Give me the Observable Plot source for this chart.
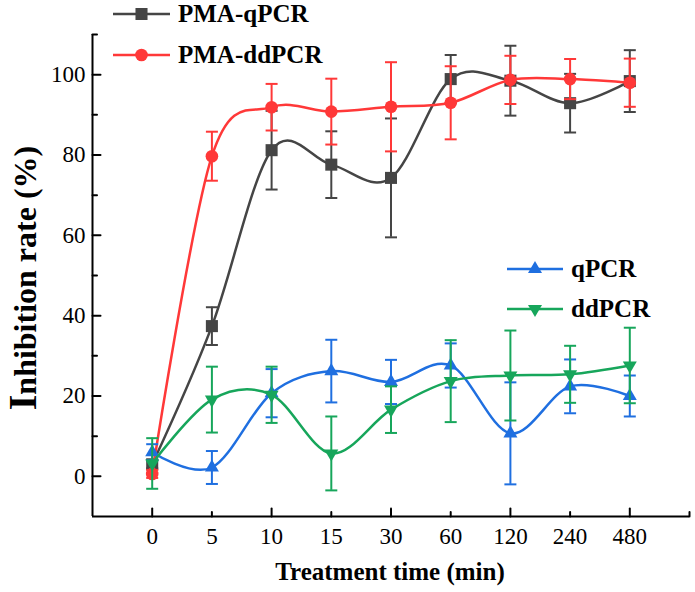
<!DOCTYPE html>
<html>
<head>
<meta charset="utf-8">
<script src="https://cdn.jsdelivr.net/npm/d3@7"></script>
<script src="https://cdn.jsdelivr.net/npm/@observablehq/plot@0.6"></script>
<style>
  html, body { margin: 0; padding: 0; background: #fff; }
</style>
</head>
<body>
<div id="chart"></div>
<script>
// Treatment times (categorical, equally spaced on the axis)
const times = ["0", "5", "10", "15", "30", "60", "120", "240", "480"];

// Inhibition rate (%) and standard deviations per method
const pmaQpcr    = [3.0, 37.4, 81.2, 77.6, 74.3, 98.9, 98.5, 92.9, 98.4];
const pmaQpcrErr = [1.0, 4.7, 9.8, 8.3, 14.8, 6.0, 8.7, 7.3, 7.7];
const pmaDdpcr    = [0.6, 79.7, 91.9, 90.8, 92.0, 93.0, 98.7, 98.9, 98.0];
const pmaDdpcrErr = [1.0, 6.1, 5.8, 8.2, 11.1, 9.1, 6.0, 5.0, 6.0];
const qpcr    = [6.0, 2.2, 20.7, 26.2, 23.5, 27.6, 10.7, 22.4, 20.0];
const qpcrErr = [2.0, 4.1, 6.0, 7.8, 5.5, 5.5, 12.7, 6.7, 5.1];
const ddpcr    = [3.2, 19.1, 20.3, 5.7, 16.6, 23.7, 25.1, 25.4, 27.6];
const ddpcrErr = [6.3, 8.2, 7.0, 9.2, 5.8, 10.2, 11.2, 7.1, 9.4];

// Axis settings
const xDomain = [-1, 9];
const yDomain = [-10, 110];
const yMajor = [0, 20, 40, 60, 80, 100];
const yMinor = [10, 30, 50, 70, 90, 110];
const xMajor = [0, 2, 4, 6, 8];
const xMinor = [1, 3, 5, 7, 9];

const font = "'Liberation Serif', 'Times New Roman', serif";

const series = [
  {name: "PMA-qPCR",  values: pmaQpcr,  errors: pmaQpcrErr,  color: "#454545", symbol: "square",   r: 6.8, rotate: 0},
  {name: "PMA-ddPCR", values: pmaDdpcr, errors: pmaDdpcrErr, color: "#ff3838", symbol: "circle",   r: 6.3, rotate: 0},
  {name: "qPCR",      values: qpcr,     errors: qpcrErr,     color: "#1f6fe0", symbol: "triangle", r: 5.2, rotate: 0},
  {name: "ddPCR",     values: ddpcr,    errors: ddpcrErr,    color: "#17a65b", symbol: "triangle", r: 5.2, rotate: 180}
];

// Horizontal cap used on the error bars
const capSymbol = {
  draw(context, size) {
    const w = Math.sqrt(size / Math.PI);
    context.moveTo(-w, 0);
    context.lineTo(w, 0);
  }
};

// Straight tick segment for the inward axis ticks
const tickShape = {
  draw(context, l) {
    context.moveTo(0, 0);
    context.lineTo(0, -l);
  }
};

const seriesMarks = series.flatMap(s => {
  const rows = times.map((t, i) => ({i, v: s.values[i], lo: s.values[i] - s.errors[i], hi: s.values[i] + s.errors[i]}));
  return [
    // uniform Catmull–Rom spline through the points
    Plot.line(rows, {x: "i", y: "v", curve: "cardinal", tension: 0, stroke: s.color, strokeWidth: 2.5}),
    Plot.ruleX(rows, {x: "i", y1: "lo", y2: "hi", stroke: s.color, strokeWidth: 2}),
    Plot.dot(rows, {x: "i", y: "hi", symbol: capSymbol, r: 6, stroke: s.color, strokeWidth: 2, fill: "none"}),
    Plot.dot(rows, {x: "i", y: "lo", symbol: capSymbol, r: 6, stroke: s.color, strokeWidth: 2, fill: "none"}),
    Plot.dot(rows, {x: "i", y: "v", symbol: s.symbol, r: s.r, fill: s.color, stroke: "none", rotate: s.rotate})
  ];
});

const svg = Plot.plot({
  width: 695,
  height: 592,
  marginLeft: 92,
  marginRight: 6,
  marginTop: 34,
  marginBottom: 76,
  style: {fontFamily: font, background: "#fff", color: "#000"},
  x: {domain: xDomain},
  y: {domain: yDomain},
  marks: [
    // tick labels
    Plot.axisX({ticks: d3.range(times.length), tickSize: 0, tickPadding: 11, tickFormat: i => times[i], fontSize: 23, label: null}),
    Plot.axisY({ticks: yMajor, tickSize: 0, tickPadding: 7, fontSize: 23, label: null}),
    // inward tick marks
    Plot.vector(xMajor, {x: d => d, frameAnchor: "bottom", length: 8, anchor: "start", shape: tickShape, stroke: "#000", strokeWidth: 2}),
    Plot.vector(xMinor, {x: d => d, frameAnchor: "bottom", length: 4.5, anchor: "start", shape: tickShape, stroke: "#000", strokeWidth: 2}),
    Plot.vector(yMajor, {y: d => d, frameAnchor: "left", length: 8, rotate: 90, anchor: "start", shape: tickShape, stroke: "#000", strokeWidth: 2}),
    Plot.vector(yMinor, {y: d => d, frameAnchor: "left", length: 4.5, rotate: 90, anchor: "start", shape: tickShape, stroke: "#000", strokeWidth: 2}),
    // axis lines
    Plot.ruleX([xDomain[0]], {stroke: "#000", strokeWidth: 2}),
    Plot.ruleY([yDomain[0]], {stroke: "#000", strokeWidth: 2}),
    ...seriesMarks
  ]
});

const root = d3.select(svg);

// Axis titles
root.append("text")
  .attr("x", 390).attr("y", 580)
  .attr("text-anchor", "middle")
  .attr("font-family", font).attr("font-weight", "bold").attr("font-size", 25)
  .attr("fill", "#000")
  .text("Treatment time (min)");

const yTitle = root.append("text")
  .attr("transform", "translate(36,278) rotate(-90)")
  .attr("text-anchor", "middle")
  .attr("font-family", font).attr("font-weight", "bold").attr("font-size", 32)
  .attr("fill", "#000");
yTitle.append("tspan").attr("font-size", 40).text("I");
yTitle.append("tspan").text("nhibition rate (%)");

// Legends
const legends = [
  {s: series[0], x0: 113, x1: 170, y: 14},
  {s: series[1], x0: 113, x1: 170, y: 55},
  {s: series[2], x0: 507, x1: 563, y: 269},
  {s: series[3], x0: 507, x1: 563, y: 309}
];
const symbolTypes = {square: d3.symbolSquare, circle: d3.symbolCircle, triangle: d3.symbolTriangle};
for (const {s, x0, x1, y} of legends) {
  const g = root.append("g");
  g.append("line")
    .attr("x1", x0).attr("x2", x1).attr("y1", y).attr("y2", y)
    .attr("stroke", s.color).attr("stroke-width", 2.5);
  g.append("path")
    .attr("d", d3.symbol(symbolTypes[s.symbol], Math.PI * s.r * s.r)())
    .attr("transform", `translate(${(x0 + x1) / 2},${y}) rotate(${s.rotate})`)
    .attr("fill", s.color);
  g.append("text")
    .attr("x", x1 + 8).attr("y", y + 8)
    .attr("text-anchor", "start")
    .attr("font-family", font).attr("font-weight", "bold").attr("font-size", 25)
    .attr("fill", "#000")
    .text(s.name);
}

document.getElementById("chart").appendChild(svg);
</script>
</body>
</html>
